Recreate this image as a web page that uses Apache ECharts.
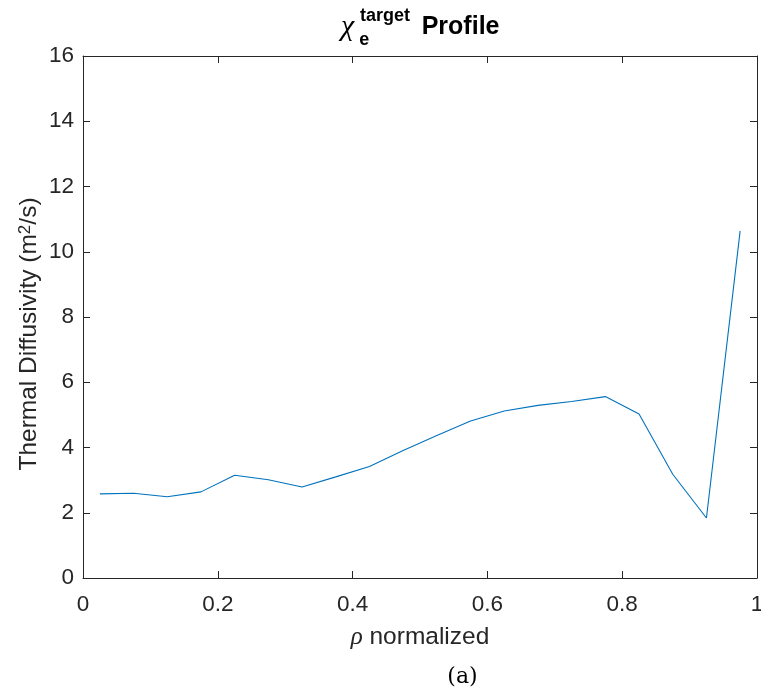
<!DOCTYPE html>
<html>
<head>
<meta charset="utf-8">
<script src="https://cdn.jsdelivr.net/npm/echarts@6/dist/echarts.min.js"></script>
<style>
  html, body { margin: 0; padding: 0; background: #fff; overflow: hidden; }
  #chart { width: 761px; height: 698px; }
</style>
</head>
<body>
<div id="chart"></div>
<script>
// Normalized radius (cell centres) and electron thermal diffusivity target, m^2/s
const rho = [0.025, 0.075, 0.125, 0.175, 0.225, 0.275, 0.325, 0.375, 0.425, 0.475,
             0.525, 0.575, 0.625, 0.675, 0.725, 0.775, 0.825, 0.875, 0.925, 0.975];
const chiTarget = [2.58, 2.60, 2.49, 2.64, 3.15, 3.01, 2.79, 3.10, 3.42, 3.91,
                   4.37, 4.81, 5.12, 5.29, 5.41, 5.56, 5.03, 3.18, 1.84, 10.64];

const xRange = [0, 1];
const yRange = [0, 16];
const xStep = 0.2;
const yStep = 2;

const axisColor = '#262626';
const lineColor = '#0072BD';
const sans = '"Liberation Sans", Arial, Helvetica, sans-serif';
const serif = '"Liberation Serif", "Times New Roman", serif';
const tickFont = 22.5;
const labelFont = 24.5;

const points = rho.map((r, i) => [r, chiTarget[i]]);

// Box-style axes: the top/right copies only carry the frame line and inward ticks
const frameAxis = (extra) => Object.assign({
  type: 'value',
  axisLine: { show: true, onZero: false, lineStyle: { color: axisColor, width: 1 } },
  axisTick: { show: true, inside: true, length: 7, lineStyle: { color: axisColor } },
  splitLine: { show: false },
  axisLabel: { show: false }
}, extra);

const chart = echarts.init(document.getElementById('chart'), null, { renderer: 'canvas' });

chart.setOption({
  backgroundColor: '#ffffff',
  animation: false,
  grid: { left: 83, right: 4, top: 56, bottom: 120, containLabel: false, outerBoundsMode: 'none' },
  xAxis: [
    frameAxis({
      position: 'bottom',
      min: xRange[0], max: xRange[1], interval: xStep,
      axisLabel: { show: true, color: axisColor, fontFamily: sans, fontSize: tickFont, margin: 15 },
      name: '{rho|ρ} normalized',
      nameLocation: 'middle',
      nameGap: 47,
      nameMoveOverlap: false,
      nameTextStyle: {
        color: axisColor, fontFamily: sans, fontSize: labelFont,
        rich: {
          rho: { fontFamily: serif, fontStyle: 'italic', fontSize: 25, color: axisColor }
        }
      }
    }),
    frameAxis({ position: 'top', min: xRange[0], max: xRange[1], interval: xStep })
  ],
  yAxis: [
    frameAxis({
      position: 'left',
      min: yRange[0], max: yRange[1], interval: yStep,
      axisLabel: { show: true, color: axisColor, fontFamily: sans, fontSize: tickFont, margin: 9, padding: [5, 0, 0, 0] },
      name: 'Thermal Diffusivity (m{sup|2}/s)',
      nameLocation: 'middle',
      nameGap: 41,
      nameMoveOverlap: false,
      nameTextStyle: {
        color: axisColor, fontFamily: sans, fontSize: labelFont,
        padding: [0, 34, 0, 0],
        rich: {
          sup: { fontFamily: sans, fontSize: 17, color: axisColor, verticalAlign: 'top', lineHeight: 14 }
        }
      }
    }),
    frameAxis({ position: 'right', min: yRange[0], max: yRange[1], interval: yStep })
  ],
  graphic: [
    // Title: chi with stacked subscript/superscript, then "Profile"
    { type: 'text', x: 341, y: 27, silent: true,
      style: { text: 'χ', fontFamily: serif, fontStyle: 'italic', fontSize: 30, fill: '#000', align: 'left', verticalAlign: 'middle' } },
    { type: 'text', x: 359.3, y: 40.5, silent: true,
      style: { text: 'e', fontFamily: sans, fontWeight: 'bold', fontSize: 18, fill: '#000', align: 'left', verticalAlign: 'middle' } },
    { type: 'text', x: 360, y: 16, silent: true,
      style: { text: 'target', fontFamily: sans, fontWeight: 'bold', fontSize: 18, fill: '#000', align: 'left', verticalAlign: 'middle' } },
    { type: 'text', x: 421.7, y: 27, silent: true,
      style: { text: 'Profile', fontFamily: sans, fontWeight: 'bold', fontSize: 25, fill: '#000', align: 'left', verticalAlign: 'middle' } },
    // Sub-figure tag
    { type: 'text', x: 462.5, y: 677.3, silent: true,
      style: { text: '(a)', fontFamily: '"DejaVu Serif", serif', fontSize: 22, fill: '#000', align: 'center', verticalAlign: 'middle' } }
  ],
  series: [{
    type: 'line',
    xAxisIndex: 0,
    yAxisIndex: 0,
    data: points,
    showSymbol: false,
    symbol: 'none',
    lineStyle: { color: lineColor, width: 1.1 },
    silent: true
  }]
});
</script>
</body>
</html>
